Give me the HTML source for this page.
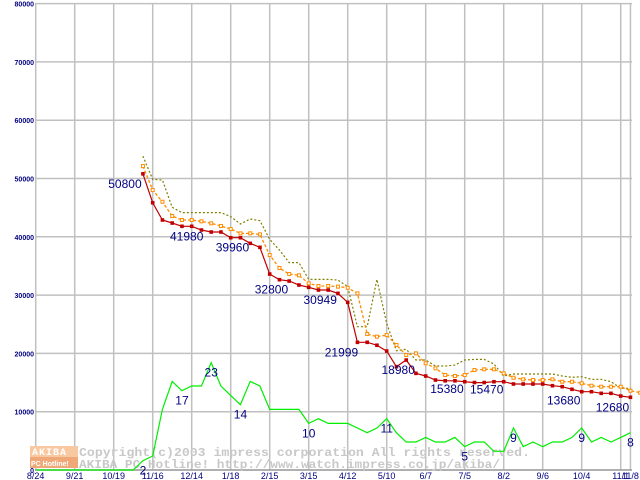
<!DOCTYPE html>
<html><head><meta charset="utf-8"><style>
body{margin:0;background:#fff;}
svg{display:block;font-family:"Liberation Sans",sans-serif;}
</style></head><body>
<svg id="chart" width="640" height="480" viewBox="0 0 640 480" xmlns="http://www.w3.org/2000/svg">
<g id="grid"></g>
<g id="wm">
<rect x="30" y="446" width="48" height="11" fill="#f8c8a0"/>
<rect x="30" y="457" width="48" height="11" fill="#f0a878"/>
<text x="32" y="455" font-size="10" font-weight="bold" fill="#fff" font-family="Liberation Mono,monospace" letter-spacing="1">AKIBA</text>
<text x="31" y="466" font-size="7" font-weight="bold" fill="#fff">PC Hotline!</text>
<text x="79" y="456" font-size="12" font-weight="bold" fill="#c8c8c8" font-family="Liberation Mono,monospace" textLength="451" lengthAdjust="spacingAndGlyphs">Copyright(c)2003 impress corporation All rights reserved.</text>
<text x="79" y="468" font-size="12" font-weight="bold" fill="#c8c8c8" font-family="Liberation Mono,monospace" textLength="421" lengthAdjust="spacingAndGlyphs">AKIBA PC Hotline!  http://www.watch.impress.co.jp/akiba/</text>
</g>
<g id="series"></g>
<g id="labels"></g>
</svg>
<script>
const xTickIdx=[0,4,8,12,16,20,24,28,32,36,40,44,48,52,56,60,61];
const xTickLabels=["8/24","9/21","10/19","11/16","12/14","1/18","2/15","3/15","4/12","5/10","6/7","7/5","8/2","9/6","10/4","11/1","11/8"];
const yTicks=[0,10000,20000,30000,40000,50000,60000,70000,80000];
const startIdx=11;
const minPrice=[50800,45840,42880,42360,41800,41800,41160,40820,40820,39840,39840,38880,38190,33610,32640,32410,31730,31330,30870,30870,30300,28760,21900,21900,21400,20400,17720,18860,16580,16120,15430,15300,15300,15140,15000,15000,15140,15140,14750,14750,14750,14750,14460,14290,13840,13430,13430,13150,13150,12690,12470];
const avgPrice=[52130,48020,46010,43560,42880,42880,42650,42310,41850,41330,40590,40590,40420,36870,34640,33610,33390,32020,31560,31560,31450,31270,30300,23320,22870,23150,21440,19720,20010,18300,17440,16290,16120,16290,17150,17270,17270,16580,15830,15550,15440,15440,15550,15140,15140,14870,14460,14290,14290,14290,13600,13260];
const maxPrice=[53850,49850,49740,45060,44150,44150,44150,44150,44150,43460,42200,43060,42770,39570,37740,35570,35570,32710,32700,32700,32590,31450,24580,24580,32700,25150,20460,20700,18860,18860,17840,17840,17990,18860,18970,18970,18180,16120,16460,16460,16460,16460,16460,16120,15900,16000,15550,15550,15140,14010,14010];
const shopCount=[0,0,0,0,0,0,0,0,0,0,0,2,3,13,19,17,18,18,23,18,16,14,19,18,13,13,13,13,10,11,10,10,10,9,8,9,11,8,6,6,7,6,6,7,5,6,6,4,4,9,5,6,5,6,6,7,9,6,7,6,7,8];
const countScale=800;
const priceLabels=[[11,"50800"],[16,"41980"],[21,"39960"],[25,"32800"],[30,"30949"],[33,"21999"],[38,"18980"],[43,"15380"],[48,"15470"],[56,"13680"],[61,"12680"]];
const priceLabelPos=[[-18,14],[-5,14],[-8,14],[-8,14],[-8,14],[-16,14],[-8,14],[-8,12],[-17,12],[-18,13],[-18,14]];
const countLabels=[[11,"2"],[15,"17"],[18,"23"],[21,"14"],[28,"10"],[36,"11"],[44,"5"],[49,"9"],[56,"9"],[61,"8"]];

const NS="http://www.w3.org/2000/svg";
const X=i=>35.7+i*9.75;
const Y=v=>470-v*(466.4/80000);
function mk(tag,attrs,parent){const e=document.createElementNS(NS,tag);for(const k in attrs)e.setAttribute(k,attrs[k]);parent.appendChild(e);return e;}
const grid=document.getElementById('grid'),ser=document.getElementById('series'),lab=document.getElementById('labels');
yTicks.forEach(v=>{
  const l=mk('line',{x1:35,x2:632,y1:Y(v),y2:Y(v),stroke:'#c0c0c0','stroke-width':1.5},grid);
  
  
  const t=mk('text',{x:34,y:Y(v)+3,'font-size':7,'font-weight':'bold',fill:'#000080','text-anchor':'end'},grid);
  
  
  t.textContent=v;
});
xTickIdx.forEach((i,k)=>{
  const l=mk('line',{x1:X(i),x2:X(i),y1:Y(80000),y2:470,stroke:'#c0c0c0','stroke-width':1.5},grid);
  
  
  const t=mk('text',{x:X(i),y:479,'font-size':9,fill:'#000080','text-anchor':'middle'},grid);
  
  
  t.textContent=xTickLabels[k];
});
mk('line',{x1:35,x2:632,y1:470,y2:470,stroke:'#a0a0a0','stroke-width':1.5},grid);
function pts(arr,off,f){return arr.map((v,j)=>X(j+off).toFixed(1)+','+Y(f?f(v):v).toFixed(1)).join(' ');}
let g=mk('polyline',{points:pts(shopCount,0,v=>v*countScale),fill:'none',stroke:'#00ee00','stroke-width':1.2},ser);


let o=mk('polyline',{points:pts(maxPrice,startIdx),fill:'none',stroke:'#808000','stroke-width':1.2,'stroke-dasharray':'2,2'},ser);


let a=mk('polyline',{points:pts(avgPrice,startIdx),fill:'none',stroke:'#ff8c00','stroke-width':1.3,'stroke-dasharray':'3,2'},ser);


avgPrice.forEach((v,j)=>{
  const r=mk('rect',{x:X(j+startIdx)-1.5,y:Y(v)-1.5,width:3,height:3,fill:'#fff',stroke:'#ff8c00','stroke-width':1},ser);
  
  
});
let m=mk('polyline',{points:pts(minPrice,startIdx),fill:'none',stroke:'#c00000','stroke-width':1.2},ser);


minPrice.forEach((v,j)=>{
  const r=mk('rect',{x:X(j+startIdx)-1.8,y:Y(v)-1.8,width:3.6,height:3.6,fill:'#c00000'},ser);
  
  
});
priceLabels.forEach(([i,s],k)=>{
  const v=minPrice[i-startIdx];
  const t=mk('text',{x:X(i)+priceLabelPos[k][0],y:Y(v)+priceLabelPos[k][1],'font-size':12,fill:'#000080','text-anchor':'middle'},lab);
  
  
  t.textContent=s;
});
countLabels.forEach(([i,s])=>{
  const t=mk('text',{x:X(i),y:Y(shopCount[i]*countScale)+14,'font-size':12,fill:'#000080','text-anchor':'middle'},lab);
  
  
  t.textContent=s;
});
</script>
</body></html>
